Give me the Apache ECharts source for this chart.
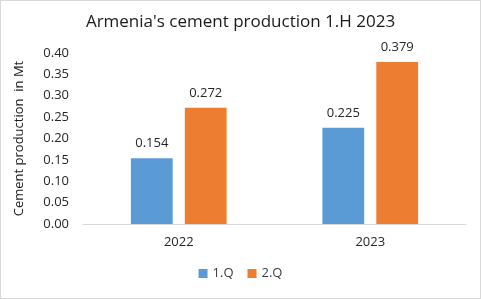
<!DOCTYPE html>
<html><head><meta charset="utf-8">
<script src="https://cdn.jsdelivr.net/npm/echarts@6/dist/echarts.min.js"></script>
<style>
html,body{margin:0;padding:0;background:#fff;}
#c{width:479px;height:297px;border:1px solid #d9d9d9;}
</style></head>
<body><div id="c"></div>
<script>
const categories = ['2022', '2023'];
const seriesNames = ['1.Q', '2.Q'];
const q1 = [0.154, 0.225];
const q2 = [0.272, 0.379];
const yTicks = {min: 0, max: 0.40, interval: 0.05};

const font = 'Open Sans';
const chart = echarts.init(document.getElementById('c'), null, {renderer: 'canvas'});
chart.setOption({
  animation: false,
  backgroundColor: '#fff',
  textStyle: {fontFamily: font},
  title: {
    text: "Armenia's cement production 1.H 2023",
    left: 'center', top: 8,
    textStyle: {fontFamily: font, fontSize: 17, fontWeight: 'normal', color: '#1a1a1a'}
  },
  legend: {
    data: seriesNames, bottom: 13, left: 'center',
    itemWidth: 9, itemHeight: 9, itemGap: 14, icon: 'rect',
    textStyle: {fontFamily: font, fontSize: 13, color: '#404040'}
  },
  grid: {left: 82, right: 14, top: 52, bottom: 74, containLabel: false},
  xAxis: {
    type: 'category', data: categories,
    axisLine: {lineStyle: {color: '#d9d9d9'}},
    axisTick: {show: false},
    axisLabel: {fontFamily: font, fontSize: 13, color: '#262626', margin: 12}
  },
  yAxis: {
    type: 'value', min: yTicks.min, max: yTicks.max, interval: yTicks.interval,
    name: 'Cement production  in Mt', nameLocation: 'middle', nameGap: 57,
    nameTextStyle: {fontFamily: font, fontSize: 13, color: '#1a1a1a'},
    splitLine: {show: false},
    axisLine: {show: false}, axisTick: {show: false},
    axisLabel: {fontFamily: font, fontSize: 13, color: '#262626', margin: 14,
      formatter: v => v.toFixed(2)}
  },
  series: [
    {name: seriesNames[0], type: 'bar', data: q1, barGap: '29%', barCategoryGap: '50%',
     itemStyle: {color: '#5b9bd5'},
     label: {show: true, position: 'top', distance: 8, fontFamily: font, fontSize: 13, color: '#262626', formatter: p => p.value.toFixed(3)}},
    {name: seriesNames[1], type: 'bar', data: q2, barGap: '29%', barCategoryGap: '50%',
     itemStyle: {color: '#ed7d31'},
     label: {show: true, position: 'top', distance: 8, fontFamily: font, fontSize: 13, color: '#262626', formatter: p => p.value.toFixed(3)}}
  ]
});
</script></body></html>
